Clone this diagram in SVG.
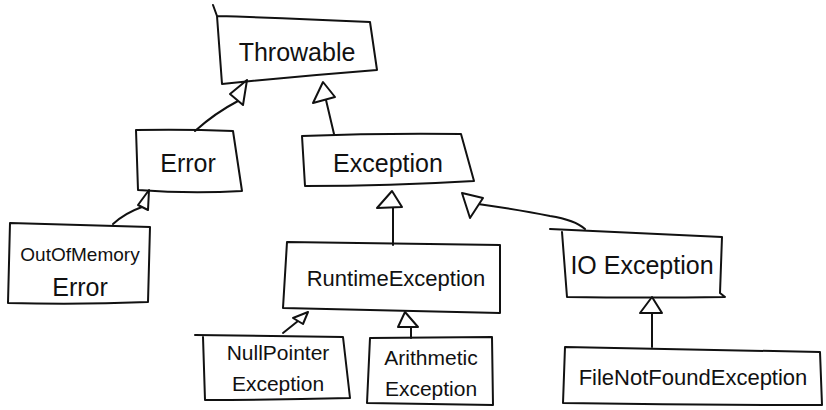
<svg xmlns="http://www.w3.org/2000/svg" width="826" height="410" viewBox="0 0 826 410">
<style>
.box{fill:none;stroke:#111;stroke-width:2;stroke-linejoin:round;stroke-linecap:round}
.ln{fill:none;stroke:#111;stroke-width:2;stroke-linecap:round}
.tri{fill:#fff;stroke:#111;stroke-width:2;stroke-linejoin:round}
text{font-family:"Liberation Sans","DejaVu Sans",sans-serif;fill:#111;text-anchor:middle}
.big{font-size:25px}
.mid{font-size:21px}
</style>
<rect width="826" height="410" fill="#fff"/>
<g id="connectors">
<path class="ln" d="M195,131 Q215,113 238,101"/>
<polygon class="tri" points="247,80 230,94 243,105"/>
<path class="ln" d="M334,134 L326,100"/>
<polygon class="tri" points="323,82 313,103 335,97"/>
<path class="ln" d="M113,224 Q125,213 142,207"/>
<polygon class="tri" points="149,190 138,205 148,210"/>
<path class="ln" d="M393,208 L393,245"/>
<polygon class="tri" points="392,191 377,208 402,207"/>
<path class="ln" d="M585,229 Q575,220 550,216 Q520,210 478,204"/>
<polygon class="tri" points="462,193 483,198 470,218"/>
<path class="ln" d="M283,333 L298,321"/>
<polygon class="tri" points="308,312 293,318 303,324"/>
<path class="ln" d="M411,327 L411,338"/>
<polygon class="tri" points="405,312 398,327 418,327"/>
<path class="ln" d="M652,313 L652,347"/>
<polygon class="tri" points="652,297 640,313 662,313"/>
</g>
<g id="throwable">
<path class="box" d="M213,5 L217,16 Q290,18 370,22 L377,70 Q300,76 222,84 L217,16"/>
<text class="big" x="297" y="61">Throwable</text>
</g>
<g id="error">
<path class="box" d="M136,130 Q185,129 233,131 L242,191 Q190,194 138,190 Z"/>
<text class="big" x="188" y="172">Error</text>
</g>
<g id="exception">
<path class="box" d="M302,136 Q380,133 461,134 L474,181 Q390,186 305,186 Z"/>
<text class="big" x="388" y="172">Exception</text>
</g>
<g id="outofmemory">
<path class="box" d="M10,223 Q80,225 150,227 L148,302 Q78,305 8,303 Z"/>
<text x="80" y="261" style="font-size:19px">OutOfMemory</text>
<text class="big" x="80" y="296">Error</text>
</g>
<g id="runtime">
<path class="box" d="M287,242 Q390,243 500,245 L500,313 Q390,310 283,308 Z"/>
<text x="396" y="286" style="font-size:22px">RuntimeException</text>
</g>
<g id="nullpointer">
<path class="box" d="M195,335 L343,337 L350,398 Q275,400 205,400 L203,337"/>
<text class="mid" x="278" y="360">NullPointer</text>
<text class="mid" x="278" y="391">Exception</text>
</g>
<g id="arithmetic">
<path class="box" d="M370,338 L492,337 L493,405 Q430,404 367,403 Z"/>
<text class="mid" x="431" y="365">Arithmetic</text>
<text class="mid" x="431" y="396">Exception</text>
</g>
<g id="ioexception">
<path class="box" d="M550,229 L722,237 L720,293 L725,297 Q645,298 567,297 L562,232"/>
<text class="big" x="642" y="274">IO Exception</text>
</g>
<g id="filenotfound">
<path class="box" d="M565,347 Q690,349 820,352 L822,405 Q690,405 563,403 Z"/>
<text x="693" y="385" style="font-size:22px">FileNotFoundException</text>
</g>
</svg>
